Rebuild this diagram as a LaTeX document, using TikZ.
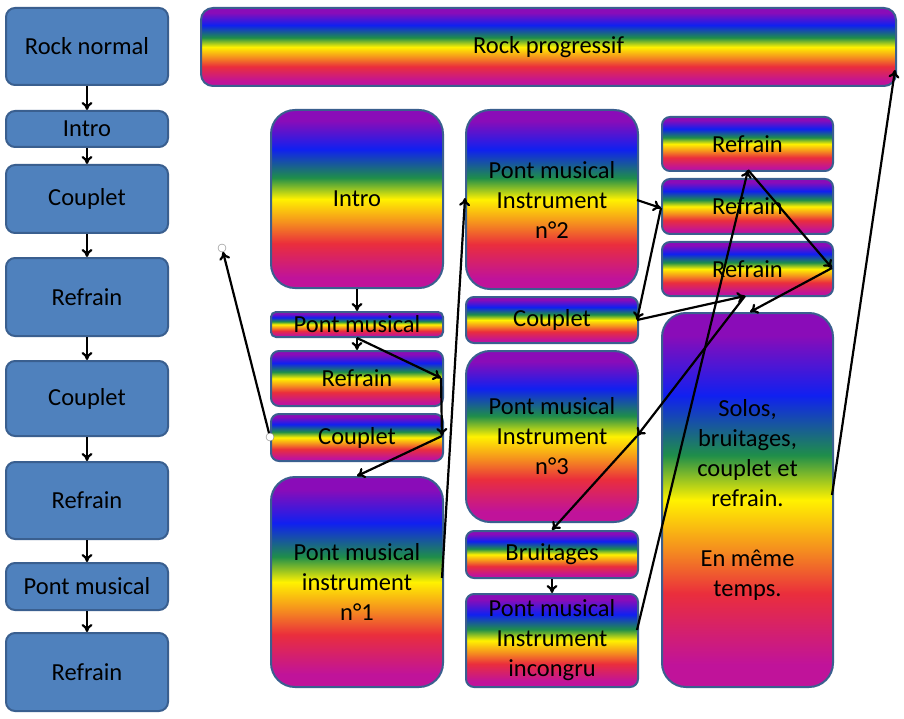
\documentclass[tikz,border=0pt]{standalone}
\usepackage{fontspec}
\setmainfont{Carlito}
\usetikzlibrary{arrows.meta}
\definecolor{bfill}{HTML}{4F81BD}
\definecolor{bdraw}{HTML}{3A5F8F}
\definecolor{rmag}{HTML}{C0139A}
\definecolor{rred}{HTML}{EA2E3C}
\definecolor{rora}{HTML}{F5901E}
\definecolor{ryel}{HTML}{FFF200}
\definecolor{rgre}{HTML}{1F8E4A}
\definecolor{rblu}{HTML}{1020F0}
\definecolor{rpur}{HTML}{8A0CB8}
\pgfdeclareverticalshading{rainbow}{100bp}{color(0bp)=(rmag);color(28bp)=(rmag);color(37.5bp)=(rred);color(43.5bp)=(rora);color(50bp)=(ryel);color(56bp)=(rgre);color(64bp)=(rblu);color(72bp)=(rpur);color(100bp)=(rpur)}
\tikzset{
 base/.style={draw=bdraw,line width=2pt,inner sep=0pt,align=center,font=\fontsize{24.5}{30}\selectfont,anchor=north west},
 bluebox/.style={base,fill=bfill,rounded corners=9pt},
 rb/.style={base,shading=rainbow,rounded corners=8pt},
 rbt/.style={base,shading=rainbow,rounded corners=24pt},
 con/.style={line width=2.2pt,-{To[length=8pt,width=11pt]}},
 handle/.style={circle,draw=gray,fill=white,inner sep=0pt,minimum size=8pt}
}
\begin{document}
\begin{tikzpicture}[x=1pt,y=-1pt]
\useasboundingbox[fill=white] (0,0) rectangle (904,719);
% left column
\node[bluebox,minimum width=162pt,minimum height=77pt] (l1) at (5,7) {Rock normal};
\node[bluebox,minimum width=162pt,minimum height=36pt] (l2) at (5,110) {Intro};
\node[bluebox,minimum width=162pt,minimum height=68pt] (l3) at (5,164) {Couplet};
\node[bluebox,minimum width=162pt,minimum height=78pt] (l4) at (5,257) {Refrain};
\node[bluebox,minimum width=162pt,minimum height=75pt] (l5) at (5,360) {Couplet};
\node[bluebox,minimum width=162pt,minimum height=77pt] (l6) at (5,461) {Refrain};
\node[bluebox,minimum width=162pt,minimum height=47pt] (l7) at (5,562) {Pont musical};
\node[bluebox,minimum width=162pt,minimum height=78pt] (l8) at (5,632) {Refrain};
\foreach \a/\b in {l1/l2,l2/l3,l3/l4,l4/l5,l5/l6,l6/l7,l7/l8} \draw[con] (\a.south) -- (\b.north);
% top
\node[rb,rounded corners=12pt,minimum width=695pt,minimum height=78pt] (rp) at (200,7) {Rock progressif};
% column 2
\node[rbt,minimum width=172pt,minimum height=178pt] (c2a) at (270,109) {Intro};
\node[rb,rounded corners=5pt,minimum width=172pt,minimum height=25pt] (c2b) at (270,311) {Pont musical};
\node[rb,minimum width=172pt,minimum height=55pt] (c2c) at (270,350) {Refrain};
\node[rb,minimum width=172pt,minimum height=47pt] (c2d) at (270,413) {Couplet};
\node[rbt,minimum width=172pt,minimum height=210pt] (c2e) at (270,476) {Pont musical\\instrument\\n°1};
% column 3
\node[rbt,minimum width=172pt,minimum height=179pt] (c3a) at (465,109) {Pont musical\\Instrument\\n°2};
\node[rb,minimum width=172pt,minimum height=46pt] (c3b) at (465,296) {Couplet};
\node[rbt,minimum width=172pt,minimum height=171pt] (c3c) at (465,350) {Pont musical\\Instrument\\n°3};
\node[rb,minimum width=172pt,minimum height=47pt] (c3d) at (465,530) {Bruitages};
\node[rb,minimum width=172pt,minimum height=93pt] (c3e) at (465,593) {Pont musical\\Instrument\\incongru};
% column 4
\node[rb,minimum width=171pt,minimum height=54pt] (c4a) at (661,116) {Refrain};
\node[rb,minimum width=171pt,minimum height=55pt] (c4b) at (661,178) {Refrain};
\node[rb,minimum width=171pt,minimum height=54pt] (c4c) at (661,241) {Refrain};
\node[rbt,minimum width=171pt,minimum height=374pt] (c4d) at (661,312) {Solos,\\bruitages,\\couplet et\\refrain.\\[30pt]En même\\temps.};
% coordinates
\coordinate (k1) at (441,378);
\coordinate (k2) at (442,436);
\coordinate (k3) at (442,578);
\coordinate (k4) at (465,198);
\coordinate (k5) at (637,200);
\coordinate (k6) at (661,208);
\coordinate (k7) at (637,320);
\coordinate (k8) at (745,296);
\coordinate (k9) at (637,436);
\coordinate (k10) at (637,630);
\coordinate (k11) at (748,170);
\coordinate (k12) at (832,268);
\coordinate (k13) at (750,312);
\coordinate (k14) at (832,495);
\coordinate (k15) at (895,70);
\coordinate (k16) at (270,437);
\coordinate (k17) at (222,248);
% connectors
\draw[con] (c2a.south) -- (c2b.north);
\draw[con] (c2b.south) -- (c2c.north);
\draw[con] (c2b.south) -- (k1);
\draw[con] (k1) -- (k2);
\draw[con] (k2) -- (c2e.north);
\draw[con] (k3) -- (k4);
\draw[con] (k5) -- (k6);
\draw[con] (k6) -- (k7);
\draw[con] (k7) -- (k8);
\draw[con] (k8) -- (k9);
\draw[con] (k9) -- (c3d.north);
\draw[con] (c3d.south) -- (c3e.north);
\draw[con] (k10) -- (k11);
\draw[con] (k11) -- (k12);
\draw[con] (k12) -- (k13);
\draw[con] (k14) -- (k15);
\draw[con,shorten >=4pt] (k16) -- (k17);
\node[handle] (h1) at (k16) {};
\node[handle] (h2) at (k17) {};
\end{tikzpicture}
\end{document}
